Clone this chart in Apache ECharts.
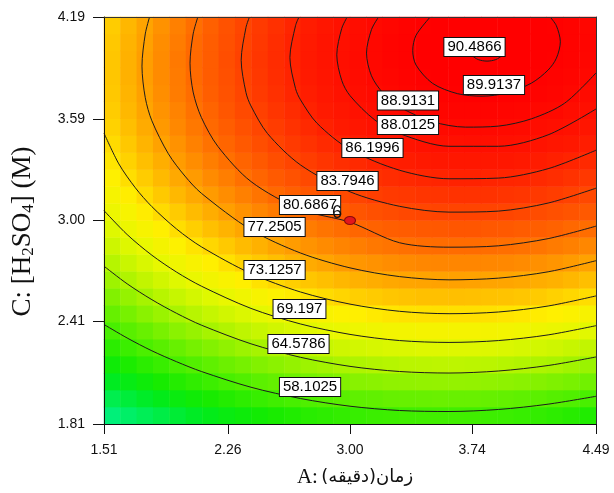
<!DOCTYPE html>
<html>
<head>
<meta charset="utf-8">
<script src="https://cdn.jsdelivr.net/npm/echarts@6/dist/echarts.min.js"></script>
<style>
  html, body { margin: 0; padding: 0; background: #fff; }
  #chart { width: 614px; height: 493px; }
</style>
</head>
<body>
<div id="chart"></div>
<script>
// Tick labels of the two factor axes
const xTicks = [1.51, 2.26, 3.00, 3.74, 4.49];   // A: time (min)
const yTicks = [1.81, 2.41, 3.00, 3.59, 4.19];   // C: [H2SO4] (M)

// Predicted response on a 30 x 24 cell grid, first row at the bottom (C = 1.81)
const responseRows = [
  [45.3,46.5,47.6,48.6,49.6,50.6,51.5,52.3,53.0,53.7,54.4,54.9,55.5,55.9,56.3,56.6,56.9,57.1,57.3,57.4,57.4,57.4,57.3,57.1,56.9,56.6,56.3,55.9,55.4,54.9],
  [48.1,49.3,50.4,51.5,52.5,53.4,54.3,55.1,55.9,56.6,57.3,57.8,58.4,58.8,59.2,59.6,59.8,60.1,60.2,60.3,60.4,60.3,60.3,60.1,59.9,59.6,59.3,58.9,58.5,58.0],
  [50.8,52.0,53.1,54.2,55.2,56.1,57.0,57.9,58.6,59.4,60.0,60.6,61.1,61.6,62.0,62.4,62.6,62.9,63.0,63.1,63.2,63.2,63.1,63.0,62.8,62.5,62.2,61.8,61.4,60.9],
  [53.3,54.5,55.7,56.7,57.8,58.7,59.6,60.5,61.2,62.0,62.6,63.2,63.8,64.2,64.7,65.0,65.3,65.5,65.7,65.8,65.9,65.9,65.8,65.7,65.5,65.2,64.9,64.6,64.1,63.6],
  [55.7,56.9,58.1,59.2,60.2,61.2,62.1,62.9,63.7,64.4,65.1,65.7,66.2,66.7,67.2,67.5,67.8,68.1,68.2,68.4,68.4,68.4,68.4,68.3,68.1,67.8,67.5,67.2,66.7,66.3],
  [57.9,59.2,60.3,61.4,62.5,63.4,64.4,65.2,66.0,66.7,67.4,68.0,68.6,69.1,69.5,69.9,70.2,70.5,70.6,70.8,70.8,70.8,70.8,70.7,70.5,70.3,70.0,69.6,69.2,68.7],
  [60.1,61.3,62.5,63.6,64.6,65.6,66.5,67.4,68.2,68.9,69.6,70.2,70.8,71.3,71.7,72.1,72.4,72.7,72.9,73.0,73.1,73.1,73.1,73.0,72.8,72.6,72.3,72.0,71.5,71.1],
  [62.0,63.3,64.4,65.6,66.6,67.6,68.5,69.4,70.2,71.0,71.7,72.3,72.9,73.4,73.8,74.2,74.5,74.8,75.0,75.2,75.2,75.3,75.2,75.1,75.0,74.8,74.5,74.1,73.7,73.3],
  [63.9,65.1,66.3,67.4,68.5,69.5,70.4,71.3,72.1,72.9,73.6,74.2,74.8,75.3,75.8,76.2,76.5,76.8,77.0,77.1,77.2,77.3,77.2,77.1,77.0,76.8,76.5,76.2,75.8,75.3],
  [65.5,66.8,68.0,69.1,70.2,71.2,72.1,73.0,73.9,74.6,75.3,76.0,76.6,77.1,77.6,78.0,78.3,78.6,78.8,79.0,79.1,79.1,79.1,79.0,78.9,78.7,78.4,78.1,77.7,77.2],
  [67.1,68.4,69.5,70.7,71.8,72.8,73.7,74.6,75.5,76.2,77.0,77.6,78.2,78.7,79.2,79.6,80.0,80.3,80.5,80.7,80.8,80.8,80.8,80.7,80.6,80.4,80.2,79.8,79.5,79.0],
  [68.5,69.8,71.0,72.1,73.2,74.2,75.2,76.1,76.9,77.7,78.4,79.1,79.7,80.3,80.7,81.2,81.5,81.8,82.0,82.2,82.3,82.4,82.4,82.3,82.2,82.0,81.8,81.5,81.1,80.7],
  [69.8,71.0,72.3,73.4,74.5,75.5,76.5,77.4,78.3,79.1,79.8,80.5,81.1,81.6,82.1,82.5,82.9,83.2,83.5,83.6,83.8,83.8,83.8,83.8,83.7,83.5,83.2,82.9,82.6,82.2],
  [70.9,72.2,73.4,74.6,75.7,76.7,77.7,78.6,79.5,80.3,81.0,81.7,82.3,82.8,83.3,83.8,84.2,84.5,84.7,84.9,85.0,85.1,85.1,85.1,85.0,84.8,84.6,84.3,83.9,83.5],
  [71.9,73.2,74.4,75.6,76.7,77.7,78.7,79.6,80.5,81.3,82.1,82.7,83.4,83.9,84.4,84.9,85.3,85.6,85.8,86.0,86.2,86.3,86.3,86.2,86.1,86.0,85.8,85.5,85.1,84.7],
  [72.7,74.0,75.3,76.4,77.6,78.6,79.6,80.5,81.4,82.2,83.0,83.7,84.3,84.9,85.4,85.8,86.2,86.6,86.8,87.0,87.2,87.3,87.3,87.3,87.2,87.0,86.8,86.5,86.2,85.8],
  [73.4,74.7,76.0,77.2,78.3,79.4,80.4,81.3,82.2,83.0,83.8,84.5,85.1,85.7,86.2,86.7,87.1,87.4,87.7,87.9,88.1,88.1,88.2,88.2,88.1,87.9,87.7,87.4,87.1,86.7],
  [74.0,75.3,76.6,77.8,78.9,80.0,81.0,81.9,82.8,83.6,84.4,85.1,85.8,86.4,86.9,87.4,87.8,88.1,88.4,88.6,88.8,88.9,88.9,88.9,88.8,88.7,88.5,88.2,87.9,87.5],
  [74.4,75.7,77.0,78.2,79.3,80.4,81.4,82.4,83.3,84.1,84.9,85.6,86.3,86.9,87.4,87.9,88.3,88.7,89.0,89.2,89.4,89.5,89.5,89.5,89.4,89.3,89.1,88.9,88.5,88.2],
  [74.7,76.0,77.3,78.5,79.7,80.7,81.8,82.7,83.6,84.5,85.3,86.0,86.7,87.3,87.8,88.3,88.7,89.1,89.4,89.6,89.8,89.9,90.0,90.0,89.9,89.8,89.6,89.4,89.0,88.7],
  [74.8,76.2,77.5,78.7,79.8,80.9,82.0,82.9,83.8,84.7,85.5,86.2,86.9,87.5,88.1,88.6,89.0,89.3,89.7,89.9,90.1,90.2,90.3,90.3,90.2,90.1,89.9,89.7,89.4,89.1],
  [74.8,76.2,77.5,78.7,79.9,81.0,82.0,83.0,83.9,84.8,85.6,86.3,87.0,87.6,88.2,88.7,89.1,89.5,89.8,90.1,90.3,90.4,90.5,90.5,90.4,90.3,90.2,89.9,89.6,89.3],
  [74.7,76.1,77.3,78.6,79.7,80.9,81.9,82.9,83.8,84.7,85.5,86.3,86.9,87.6,88.1,88.6,89.1,89.5,89.8,90.1,90.3,90.4,90.5,90.5,90.5,90.4,90.2,90.0,89.7,89.4],
  [74.4,75.8,77.1,78.3,79.5,80.6,81.7,82.7,83.6,84.5,85.3,86.1,86.8,87.4,88.0,88.5,88.9,89.3,89.7,89.9,90.1,90.3,90.4,90.4,90.4,90.3,90.1,89.9,89.7,89.3]
];

// Contour levels and their traced paths, as [A, C] pairs
const contourLevels = [58.1025, 64.5786, 69.197, 73.1257, 77.2505, 80.6867, 83.7946, 86.1996, 88.0125, 88.9131, 89.9137, 90.4866];

const path58 = [[1.51,2.392],[1.65,2.313],[1.8,2.238],[1.95,2.174],[2.1,2.117],[2.4,2.025],[2.7,1.959],[3.0,1.914],[3.3,1.889],[3.6,1.883],[3.9,1.895],[4.2,1.926],[4.49,1.972]];
const path64 = [[1.51,2.733],[1.65,2.630],[1.8,2.537],[1.95,2.457],[2.1,2.388],[2.4,2.279],[2.7,2.200],[3.0,2.147],[3.3,2.117],[3.6,2.108],[3.9,2.120],[4.2,2.152],[4.49,2.202]];
const path69 = [[1.51,3.058],[1.65,2.918],[1.8,2.797],[1.95,2.698],[2.1,2.616],[2.4,2.486],[2.7,2.395],[3.0,2.334],[3.3,2.298],[3.6,2.287],[3.9,2.298],[4.2,2.331],[4.49,2.385]];
const path73 = [[1.51,3.511],[1.6,3.331],[1.7,3.191],[1.8,3.081],[1.95,2.950],[2.1,2.846],[2.4,2.690],[2.7,2.582],[3.0,2.511],[3.3,2.469],[3.6,2.455],[3.9,2.465],[4.2,2.500],[4.49,2.559]];
const path77 = [[1.786,4.19],[1.76,4.091],[1.740,3.903],[1.76,3.718],[1.8,3.583],[1.9,3.390],[2.0,3.26],[2.1,3.159],[2.4,2.946],[2.7,2.810],[3.0,2.723],[3.3,2.672],[3.6,2.653],[3.9,2.663],[4.2,2.700],[4.49,2.765]];
const path80 = [[2.0785,4.19],[2.05,4.091],[2.031,3.92],[2.05,3.751],[2.1,3.602],[2.2,3.433],[2.4,3.228],[2.7,3.065],[3.0,2.99],[3.3,2.870],[3.6,2.844],[3.9,2.852],[4.2,2.894],[4.49,2.967]];
const path83 = [[2.391,4.19],[2.37,4.129],[2.341,3.937],[2.37,3.748],[2.4,3.670],[2.5,3.509],[2.7,3.325],[3.0,3.168],[3.3,3.083],[3.6,3.049],[3.9,3.055],[4.2,3.102],[4.49,3.189]];
const path86 = [[2.691,4.19],[2.67,4.139],[2.636,3.953],[2.67,3.772],[2.7,3.706],[2.8,3.569],[3.0,3.415],[3.3,3.294],[3.6,3.244],[3.9,3.248],[4.2,3.303],[4.49,3.411]];
const path88a = [[2.983,4.19],[2.95,4.123],[2.92,3.969],[2.95,3.819],[3.0,3.730],[3.15,3.588],[3.3,3.508],[3.6,3.434],[3.9,3.434],[4.2,3.501],[4.49,3.652]];
const path88b = [[3.173,4.19],[3.13,4.116],[3.100,3.979],[3.13,3.846],[3.2,3.745],[3.3,3.664],[3.5,3.578],[3.7,3.546],[3.9,3.552],[4.1,3.595],[4.3,3.686],[4.49,3.863]];
const path89 = [[3.486,4.19],[3.40,4.083],[3.38,3.995],[3.40,3.909],[3.5,3.802],[3.65,3.742],[3.8,3.727],[3.95,3.746],[4.1,3.804],[4.2,3.880],[4.25,3.949],[4.274,4.045],[4.25,4.139],[4.212,4.19]];
const path90 = [[3.935,4.00],[3.921,4.034],[3.883,4.059],[3.83,4.068],[3.777,4.059],[3.739,4.034],[3.725,4.00],[3.739,3.966],[3.777,3.941],[3.83,3.932],[3.883,3.941],[3.921,3.966],[3.935,4.00]];
const contourPaths = [path58, path64, path69, path73, path77, path80, path83, path86, path88a, path88b, path89, path90];

// Where each level's value tag sits, in [A, C]
const labelAnchors = [[2.758,2.026],[2.688,2.278],[2.694,2.483],[2.543,2.711],[2.543,2.962],[2.758,3.091],[2.985,3.231],[3.136,3.424],[3.351,3.559],[3.351,3.702],[3.872,3.792],[3.754,4.015]];

// Design point at the centre with its replicate count
const designPoints = [[3.00, 3.00]];
const replicates = [6];

// Colour ramp, one colour every 3 units from 36 to 90
const rampColors = [
  '#00f0e6', '#00f0c8', '#00f0a5', '#00f07d', '#00ee50', '#00eb1e', '#14eb00',
  '#3cee00', '#64f000', '#91f200', '#bef500', '#e6f800', '#fff000', '#ffc300',
  '#ff9600', '#ff6900', '#ff4100', '#ff1900', '#ff0000'
];

const chart = echarts.init(document.getElementById('chart'), null, { renderer: 'canvas' });

const heatData = [];
responseRows.forEach((row, j) => row.forEach((v, i) => heatData.push([i, j, v])));
const colIdx = responseRows[0].map((_, i) => i);
const rowIdx = responseRows.map((_, j) => j);

const lineColor = '#1c1c1c';
const tickFont = { fontFamily: 'Liberation Sans, Arial, sans-serif', fontSize: 14, color: '#111' };
const serif = 'Liberation Serif, Times New Roman, serif';

const series = [
  {
    type: 'heatmap',
    xAxisIndex: 0, yAxisIndex: 0,
    data: heatData,
    silent: true,
    z: 1
  }
];

contourPaths.forEach((pts, k) => {
  series.push({
    type: 'line',
    name: String(contourLevels[k]),
    xAxisIndex: 1, yAxisIndex: 1,
    data: pts,
    smooth: 0.3,
    showSymbol: false,
    symbol: 'none',
    silent: true,
    lineStyle: { color: lineColor, width: 1 },
    z: 3
  });
});

series.push({
  type: 'scatter',
  xAxisIndex: 1, yAxisIndex: 1,
  silent: true,
  symbolSize: 1,
  itemStyle: { color: 'rgba(0,0,0,0)', opacity: 1 },
  data: contourLevels.map((lv, k) => ({ value: labelAnchors[k], name: String(lv) })),
  label: {
    show: true,
    position: 'inside',
    formatter: p => p.name,
    fontFamily: 'Liberation Sans, Arial, sans-serif',
    fontSize: 15,
    color: '#000',
    backgroundColor: '#fff',
    borderColor: '#111',
    borderWidth: 1,
    padding: [2, 3, 1, 3]
  },
  z: 8
});

series.push({
  type: 'scatter',
  xAxisIndex: 1, yAxisIndex: 1,
  silent: true,
  symbol: 'circle',
  symbolSize: [11, 8],
  itemStyle: { color: '#e3161c', borderColor: '#8a0a0a', borderWidth: 1, opacity: 1 },
  data: designPoints.map((p, k) => ({ value: p, name: String(replicates[k]) })),
  label: {
    show: true,
    position: 'left',
    distance: 1,
    offset: [-1, -7],
    formatter: p => p.name,
    fontFamily: 'Liberation Sans, Arial, sans-serif',
    fontSize: 18,
    color: '#111'
  },
  z: 9
});

const option = {
  animation: false,
  backgroundColor: '#fff',
  grid: { left: 104, right: 18, top: 17, bottom: 69, containLabel: false },
  visualMap: {
    show: false,
    type: 'continuous',
    seriesIndex: 0,
    min: 36,
    max: 90,
    inRange: { color: rampColors }
  },
  xAxis: [
    { type: 'category', data: colIdx, show: false },
    {
      type: 'value', position: 'bottom', min: 1.51, max: 4.49, z: 6,
      axisLine: { show: true, onZero: false, lineStyle: { color: '#111', width: 1 } },
      axisTick: { show: true, length: 10, customValues: xTicks, lineStyle: { color: '#111' } },
      axisLabel: { customValues: xTicks, margin: 19, formatter: v => v.toFixed(2), ...tickFont },
      splitLine: { show: false },
      name: '{a|A:} {f|(دقیقه)}{f|زمان}',
      nameLocation: 'middle',
      nameGap: 43,
      nameTextStyle: {
        padding: [0, 0, 0, 10],
        rich: {
          a: { fontFamily: serif, fontSize: 21, color: '#111' },
          f: { fontFamily: 'DejaVu Sans, sans-serif', fontSize: 18, color: '#111' }
        }
      }
    },
    {
      type: 'value', position: 'top', min: 1.51, max: 4.49, z: 6,
      axisLine: { show: true, onZero: false, lineStyle: { color: '#333', width: 1 } },
      axisTick: { show: false }, axisLabel: { show: false }, splitLine: { show: false }
    }
  ],
  yAxis: [
    { type: 'category', data: rowIdx, show: false },
    {
      type: 'value', position: 'left', min: 1.81, max: 4.19, z: 6,
      axisLine: { show: true, onZero: false, lineStyle: { color: '#111', width: 1 } },
      axisTick: { show: true, length: 11, customValues: yTicks, lineStyle: { color: '#111' } },
      axisLabel: { customValues: yTicks, margin: 19, formatter: v => v.toFixed(2), ...tickFont },
      splitLine: { show: false },
      name: 'C: [H{s|2}SO{s|4}] (M)',
      nameLocation: 'middle',
      nameRotate: 90,
      nameGap: 67,
      nameTextStyle: {
        fontFamily: serif,
        fontSize: 27,
        color: '#111',
        padding: [0, 22, 0, 0],
        rich: {
          s: { fontFamily: serif, fontSize: 17, color: '#111', padding: [11, 0, 0, 0] }
        }
      }
    },
    {
      type: 'value', position: 'right', min: 1.81, max: 4.19, z: 6,
      axisLine: { show: true, onZero: false, lineStyle: { color: '#333', width: 1 } },
      axisTick: { show: false }, axisLabel: { show: false }, splitLine: { show: false }
    }
  ],
  series: series
};

chart.setOption(option);
</script>
</body>
</html>
